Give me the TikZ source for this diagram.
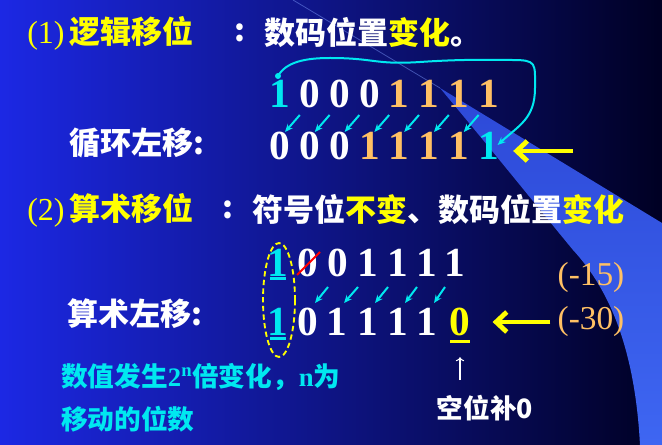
\documentclass[tikz,border=0pt]{standalone}
\usepackage{fontspec}
\setmainfont{Liberation Serif}
\newfontfamily\cjk{Noto Sans CJK SC}
\usetikzlibrary{arrows.meta,calc}
\definecolor{cy}{RGB}{0,232,240}
\definecolor{org}{RGB}{255,192,100}
\definecolor{yel}{RGB}{255,255,0}
\definecolor{beam}{RGB}{62,102,242}
\definecolor{bgl}{RGB}{28,40,228}
\definecolor{bgm}{RGB}{12,18,165}
\definecolor{bgr}{RGB}{0,0,35}
\newcommand{\hei}[1]{\fontsize{#1}{#1}\selectfont\cjk\bfseries}
\newcommand{\serif}{\rmfamily\mdseries}
\begin{document}
\begin{tikzpicture}[x=0.75pt,y=-0.75pt,
  dig/.style={inner sep=0,font=\fontsize{31}{36}\selectfont\bfseries},
  ttl/.style={anchor=west,inner sep=0,text=white,font=\hei{23.25}},
  tip/.style={cy,line width=1.5pt,-{Stealth[length=6pt,width=5pt]}},
  yarr/.style={yel,line width=3.6pt,-{Straight Barb[length=8pt,width=15pt]}}]
% background
\useasboundingbox (0,0) rectangle (662,445);
\shade[left color=bgl,middle color=bgm,right color=bgr] (0,0) rectangle (662,445);
\shade[top color=beam!65!bgm,bottom color=beam] (440,88) -- (662,223) -- (662,445) -- (640,445)
  .. controls (635,350) and (610,290) .. (573,250) .. controls (540,210) and (500,160) .. (440,88);
\draw[beam!70!white,opacity=0.5,line width=0.6pt] (293,0) -- (440,88);
% titles
\node[ttl,text=yel] (t1) at (27,33) {{\fontsize{24}{24}\serif(1)}\kern4pt逻辑移位};
\node[ttl,anchor=center] (c1) at (240,33) {:};
\node[ttl] (h1) at (264,33) {数码位置\textcolor{yel}{变化}。};
\node[ttl,text=yel] (t2) at (27,210) {{\fontsize{24}{24}\serif(2)}\kern4pt算术移位};
\node[ttl,anchor=center] (c2) at (228,210) {:};
\node[ttl] (h2) at (252,210) {符号位\textcolor{yel}{不变}、数码位置\textcolor{yel}{变化}};
\node[ttl] (rol) at (69,143) {循环左移:};
\node[ttl] (shl) at (67,314) {算术左移:};
% logic shift rows
\foreach \d/\c [count=\i] in {1/cy,0/white,0/white,0/white,1/org,1/org,1/org,1/org}
  \node[dig,text=\c] (lo\i) at ({280+29.8*(\i-1)},94) {\d};
\foreach \d/\c [count=\i] in {0/white,0/white,0/white,1/org,1/org,1/org,1/org,1/cy}
  \node[dig,text=\c] (lr\i) at ({280+29.8*(\i-1)},146) {\d};
\foreach \i [count=\j from 2] in {1,...,7}
  \draw[tip] ($(lo\j)+(-10,21)$) -- ($(lr\i)+(5,-14)$);
\coordinate (dot) at ($(lo1)+(-2,-18)$);
\fill[cy] (dot) circle (3);
\draw[tip] (dot) .. controls +(8,-14) and +(-25,0) .. (330,58) .. controls +(45,0) and +(-45,3) .. (420,62)
  .. controls +(45,-3) and +(-25,0) .. (512,60) .. controls +(25,0) and +(0,-25) .. (535,88)
  .. controls +(0,30) and +(22,-20) .. ($(lr8)+(9,-1)$);
\draw[yarr] ($(lr8.east)+(74,5)$) -- ($(lr8.east)+(14,5)$);
% arithmetic shift rows
\foreach \d/\c/\x [count=\i] in {1/cy/278,0/white/308,0/white/338,1/white/368,1/white/398,1/white/427,1/white/455}
  \node[dig,text=\c] (ari\i) at (\x,263) {\d};
\foreach \d/\c/\x [count=\i] in {1/cy/278,0/white/308,1/white/337,1/white/368,1/white/398,1/white/427,0/yel/460}
  \node[dig,text=\c] (ars\i) at (\x,322) {\d};
\foreach \i [count=\j from 3] in {2,...,6}
  \draw[tip] ($(ari\j)+(-10,24)$) -- ($(ars\i)+(7,-19)$);
\draw[red,line width=1.4pt] ($(ari2)+(-11,12)$) -- ($(ari2)+(12,-11)$);
\draw[cy,line width=2.2pt] ($(ari1.south)+(-8,2)$) -- ($(ari1.south)+(8,2)$);
\draw[cy,line width=2.2pt] ($(ars1.south)+(-8,3)$) -- ($(ars1.south)+(8,3)$);
\draw[yel,line width=2.2pt] ($(ars7.south)+(-10,5)$) -- ($(ars7.south)+(10,5)$);
\draw[yel,line width=1.4pt,dash pattern=on 4pt off 2.5pt] (279,300) ellipse [x radius=16,y radius=57];
\node[inner sep=0,text=org,font=\fontsize{25}{30}\selectfont] (m15) at (591,277) {(-15)};
\node[inner sep=0,text=org,font=\fontsize{25}{30}\selectfont] (m30) at (591,321) {(-30)};
\draw[yarr] ($(m30.west)+(-7,1)$) -- ($(ars7.east)+(22,0)$);
% notes
\node[ttl,text=cy,align=left,font=\cjk\bfseries\fontsize{20}{26.25}\selectfont] (note) at (61,398)
  {数值发生{\serif\bfseries 2}\textsuperscript{\serif\bfseries n}倍变化，{\serif\bfseries n}为\\[6pt]移动的位数};
\node[ttl,anchor=center,font=\hei{20}] (fill0) at (485,408) {空位补0};
\draw[white,line width=0.8pt,-{To[length=3pt]}] ($(ars7.south)+(0,44)$) -- ($(ars7.south)+(0,21)$);
\end{tikzpicture}
\end{document}
